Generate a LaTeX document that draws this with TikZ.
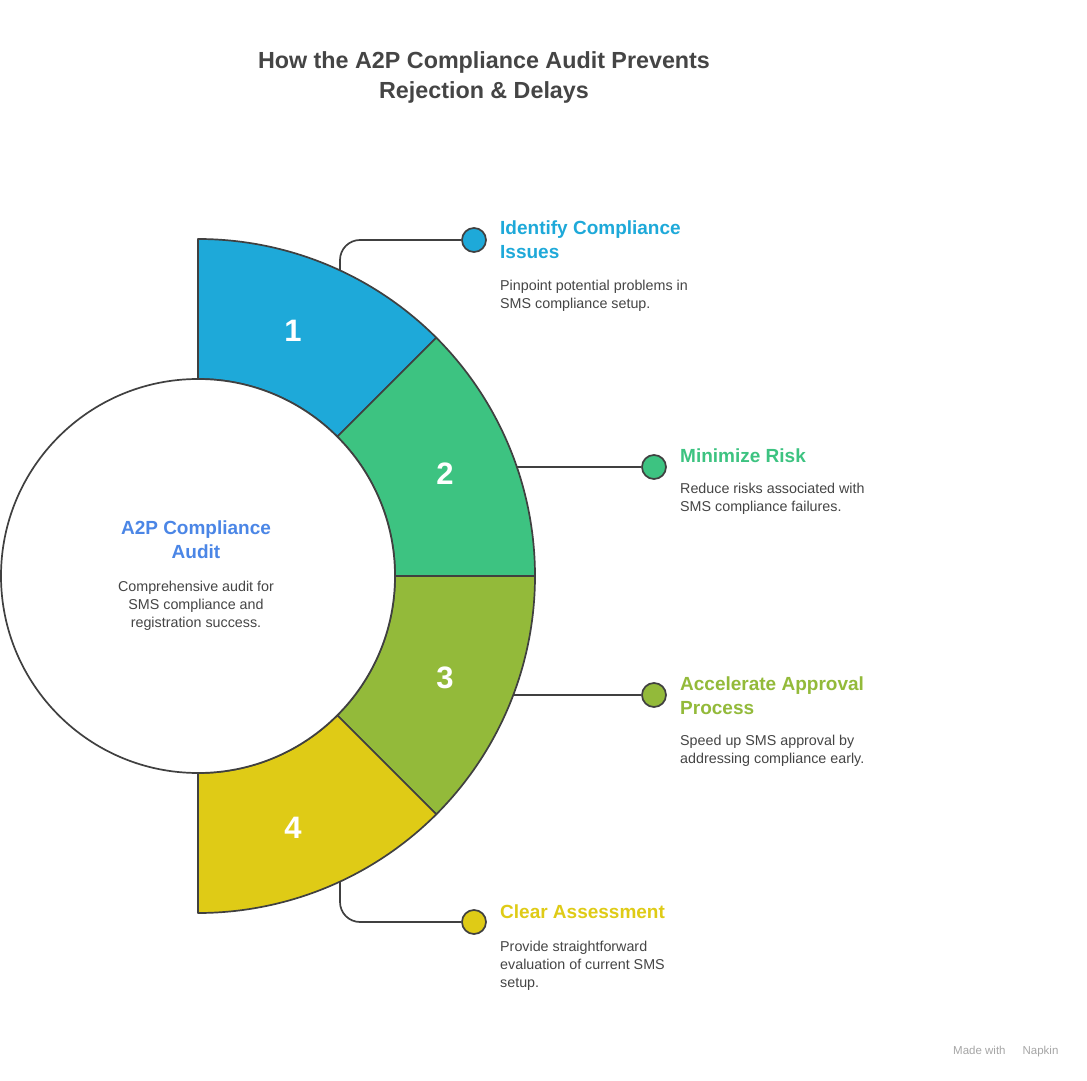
\documentclass[tikz,border=0pt]{standalone}
\usepackage{fontspec}
\setmainfont{Liberation Sans}
\usetikzlibrary{calc}
\definecolor{cblue}{HTML}{1EA9D9}
\definecolor{cgreen}{HTML}{3DC381}
\definecolor{colive}{HTML}{93BA3A}
\definecolor{cyellow}{HTML}{DFCB16}
\definecolor{ctitle}{HTML}{4B86E6}
\definecolor{ctext}{HTML}{454545}
\definecolor{cline}{HTML}{404040}
\begin{document}
\begin{tikzpicture}[x=1pt,y=1pt,
  sector/.style={draw=cline, line width=1.7pt, line join=round},
  conn/.style={draw=cline, line width=1.7pt, rounded corners=20pt},
  dot/.style={circle, draw=cline, line width=1.7pt, minimum size=24pt, inner sep=0pt},
  num/.style={text=white, font=\fontsize{31}{36}\selectfont\bfseries},
  head/.style={anchor=north west, inner sep=0pt, align=left, font=\fontsize{19}{24}\selectfont\bfseries},
  body/.style={anchor=north west, inner sep=0pt, align=left, text=ctext, font=\fontsize{14.3}{18}\selectfont}]
\useasboundingbox[fill=white] (0,0) rectangle (1087,1080);
\coordinate (c) at (198,504);
% title
\node[anchor=north, inner sep=0pt, align=center, text=ctext, font=\fontsize{23.3}{30}\selectfont\bfseries] (title) at (484,1029) {How the A2P Compliance Audit Prevents\\Rejection \& Delays};
% sectors
\foreach \a/\b/\col in {90/45/cblue, 45/0/cgreen, 0/-45/colive, -45/-90/cyellow} {
  \draw[sector, fill=\col] ($(c)+(\a:337)$) arc[start angle=\a, end angle=\b, radius=337] -- ($(c)+(\b:197)$) arc[start angle=\b, end angle=\a, radius=197] -- cycle;
}
\node[num] (n1) at (293,749) {1};
\node[num] (n2) at (445,606) {2};
\node[num] (n3) at (445,402) {3};
\node[num] (n4) at (293,252) {4};
% hub
\node[circle, draw=cline, line width=1.7pt, fill=white, minimum size=394pt, inner sep=0pt] (hub) at (c) {};
\node[anchor=north, inner sep=0pt, align=center, text=ctitle, font=\fontsize{19}{24}\selectfont\bfseries] (hubt) at (196,559) {A2P Compliance\\Audit};
\node[anchor=north, inner sep=0pt, align=center, text=ctext, font=\fontsize{14.3}{18}\selectfont] (hubb) at (196,499) {Comprehensive audit for\\SMS compliance and\\registration success.};
% dots
\node[dot, fill=cblue] (d1) at (474,840) {};
\node[dot, fill=cgreen] (d2) at (654,613) {};
\node[dot, fill=colive] (d3) at (654,385) {};
\node[dot, fill=cyellow] (d4) at (474,158) {};
\coordinate (s1) at (340,810);
\coordinate (s2) at (517,613);
\coordinate (s3) at (513,385);
\coordinate (s4) at (340,198);
\draw[conn] (s1) |- (d1.west);
\draw[conn] (s2) -- (d2.west);
\draw[conn] (s3) -- (d3.west);
\draw[conn] (s4) |- (d4.west);
% labels
\node[head, text=cblue] (h1) at (500,859) {Identify Compliance\\Issues};
\node[body] (b1) at (500,800) {Pinpoint potential problems in\\SMS compliance setup.};
\node[head, text=cgreen] (h2) at (680,631) {Minimize Risk};
\node[body] (b2) at (680,597) {Reduce risks associated with\\SMS compliance failures.};
\node[head, text=colive] (h3) at (680,403) {Accelerate Approval\\Process};
\node[body] (b3) at (680,345) {Speed up SMS approval by\\addressing compliance early.};
\node[head, text=cyellow] (h4) at (500,175) {Clear Assessment};
\node[body] (b4) at (500,139) {Provide straightforward\\evaluation of current SMS\\setup.};
% watermark
\node[anchor=west, inner sep=0pt, text=black!35, font=\fontsize{11.5}{13}\selectfont] (wm) at (953,28) {Made with\hspace{17pt}Napkin};
\end{tikzpicture}
\end{document}
